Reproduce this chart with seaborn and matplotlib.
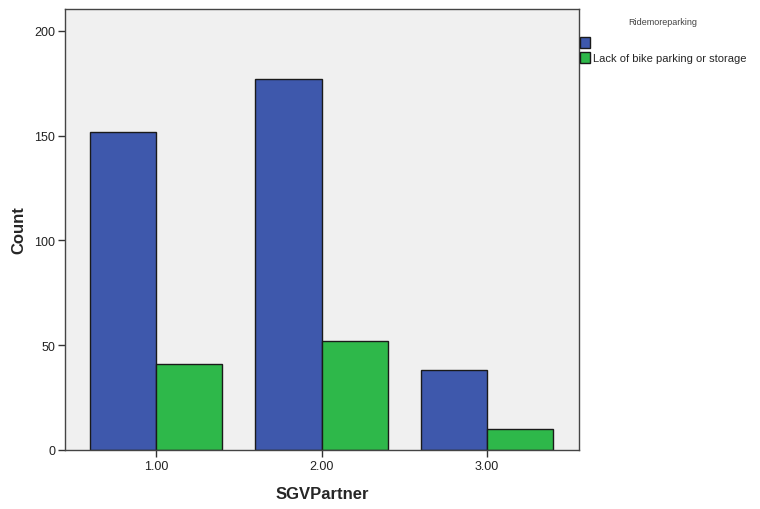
import matplotlib
matplotlib.use("Agg")
import matplotlib.pyplot as plt
import seaborn as sns
import pandas as pd

categories = ["1.00", "2.00", "3.00"]
hue_levels = [" ", "Lack of bike parking or storage"]
blank_counts = [152, 177, 38]
lack_counts = [41, 52, 10]
colors = ["#3E58AC", "#2EB84A"]

df = pd.DataFrame({
    "SGVPartner": categories * 2,
    "Ridemoreparking": [hue_levels[0]] * 3 + [hue_levels[1]] * 3,
    "Count": blank_counts + lack_counts,
})

sns.set_style("white")
plt.rcParams["font.family"] = ["Liberation Sans", "DejaVu Sans"]

fig = plt.figure(figsize=(7.6, 5.1), dpi=100)
ax = fig.add_axes([65/760, 59/510, 514/760, 441/510])
ax.set_facecolor("#F0F0F0")

sns.barplot(data=df, x="SGVPartner", y="Count", hue="Ridemoreparking",
            hue_order=hue_levels, order=categories, palette=colors,
            saturation=1, width=0.8, edgecolor="#1a1a1a", linewidth=1.0,
            ax=ax, legend=True)

ax.set_xlim(-0.55, 2.555)
ax.set_ylim(0, 210.5)
ax.set_yticks([0, 50, 100, 150, 200])
ax.tick_params(axis="both", direction="out", length=5, width=1, color="#333333",
               labelsize=9, labelcolor="#222222", pad=2)
ax.tick_params(axis="y", left=True)
ax.tick_params(axis="x", bottom=True)
for s in ax.spines.values():
    s.set_color("#444444")
    s.set_linewidth(1.0)

ax.set_xlabel("SGVPartner", fontsize=12, fontweight="bold", labelpad=10)
ax.set_ylabel("Count", fontsize=12, fontweight="bold", labelpad=6)

handles, labels = ax.get_legend_handles_labels()
ax.get_legend().remove()
leg = fig.legend(handles, labels, title="Ridemoreparking", loc="upper left",
                 bbox_to_anchor=(571/760, 1 - 9/510), frameon=False,
                 fontsize=8, title_fontsize=6.5, handlelength=0.9, handleheight=1.1,
                 handletextpad=0.25, labelspacing=0.38, borderpad=0.3)
leg._legend_box.sep = 8
leg.get_title().set_color("#444444")

fig.savefig("out.png", dpi=100)
